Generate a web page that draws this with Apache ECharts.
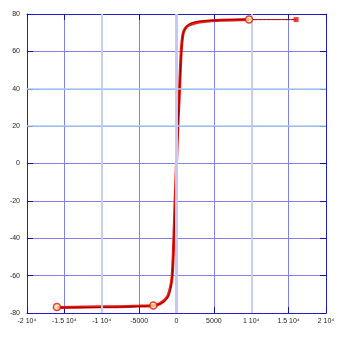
<!DOCTYPE html>
<html><head><meta charset="utf-8">
<script src="https://cdn.jsdelivr.net/npm/echarts@6/dist/echarts.min.js"></script>
<style>html,body{margin:0;padding:0;background:#fff}#c{width:339px;height:339px}</style>
</head><body><div id="c"></div>
<script>
// Ascending branch (thick red)
const ascX = [-16000, -12000, -8000, -5000, -3100, -2200, -1240, -800, -575, -360, -180, 0, 180, 400, 630, 890, 1200, 1650, 2500, 3650, 5900, 9700];
const ascY = [-77, -76.8, -76.6, -76.3, -76, -75, -71.5, -66, -60, -41, -19, 0.5, 20, 39, 60, 69.7, 72.5, 74, 75.2, 76, 76.6, 77];
// Descending branch (thin dark red)
const descX = [16000, 9700, 5000, 2000, 1000, 700, 450, 220, 30, -150, -330, -540, -900, -1500, -2800, -5000, -10000, -16000];
const descY = [77, 77, 76.6, 75.3, 71, 62, 42, 20, -1, -20, -40, -59, -69, -73.5, -75.8, -76.5, -77, -77.2];
// Marked points
const circX = [-16000, -3100, 9700];
const circY = [-76.8, -76, 77];
const sqX = [16000];
const sqY = [77];
// Tick labels
const xTicks = [-20000, -15000, -10000, -5000, 0, 5000, 10000, 15000, 20000];
const xTickLabels = ['-2 10⁴', '-1.5 10⁴', '-1 10⁴', '-5000', '0', '5000', '1 10⁴', '1.5 10⁴', '2 10⁴'];
const yTicks = [-80, -60, -40, -20, 0, 20, 40, 60, 80];

const zip = (a, b) => a.map((v, i) => [v, b[i]]);
const axisFont = {fontFamily: 'Liberation Sans', fontSize: 7, color: '#222'};
const gridBlue = '#8080f0';
const chart = echarts.init(document.getElementById('c'), null, {renderer: 'canvas'});
chart.setOption({
  animation: false,
  backgroundColor: '#fff',
  grid: {left: 27, right: 13, top: 14, bottom: 26, show: false},
  xAxis: [{
    type: 'value', min: -20000, max: 20000, interval: 5000,
    axisLine: {show: true, onZero: false, lineStyle: {color: '#2020c8', width: 1}},
    axisTick: {show: true, inside: true, length: 6, lineStyle: {color: '#1010b0'}},
    axisLabel: Object.assign({margin: 5, formatter: v => xTickLabels[xTicks.indexOf(v)] || ''}, axisFont),
    splitLine: {show: true, lineStyle: {color: gridBlue, width: 1}}
  }, {
    type: 'value', position: 'top', min: -20000, max: 20000, interval: 5000,
    axisLine: {show: true, onZero: false, lineStyle: {color: '#2020c8', width: 1}},
    axisTick: {show: true, inside: true, length: 6, lineStyle: {color: '#1010b0'}},
    axisLabel: {show: false}, splitLine: {show: false}
  }],
  yAxis: [{
    type: 'value', min: -80, max: 80, interval: 20,
    axisLine: {show: true, onZero: false, lineStyle: {color: '#2020c8', width: 1}},
    axisTick: {show: true, inside: true, length: 6, lineStyle: {color: '#1010b0'}},
    axisLabel: Object.assign({margin: 7}, axisFont),
    splitLine: {show: true, lineStyle: {color: gridBlue, width: 1}}
  }, {
    type: 'value', position: 'right', min: -80, max: 80, interval: 20,
    axisLine: {show: true, onZero: false, lineStyle: {color: '#2020c8', width: 1}},
    axisTick: {show: true, inside: true, length: 6, lineStyle: {color: '#1010b0'}},
    axisLabel: {show: false}, splitLine: {show: false}
  }],
  series: [{
    type: 'line', data: [], silent: true,
    markLine: {
      silent: true, symbol: 'none', label: {show: false},
      data: [
        {xAxis: 0, lineStyle: {color: '#c4c8f8', width: 3, type: 'solid'}},
        {xAxis: -10000, lineStyle: {color: '#c8ccf8', width: 2, type: 'solid'}},
        {xAxis: 10000, lineStyle: {color: '#c8ccf8', width: 2, type: 'solid'}},
        {yAxis: 20, lineStyle: {color: '#a8d0f4', width: 1.5, type: 'solid'}},
        {yAxis: 40, lineStyle: {color: '#a8d0f4', width: 1.5, type: 'solid'}}
      ]
    }
  }, {
    type: 'line', data: zip(ascX, ascY), showSymbol: false, smooth: 0.3,
    lineStyle: {color: '#ee1a10', width: 3}, z: 3
  }, {
    type: 'line', data: zip(descX, descY), showSymbol: false, smooth: 0.3,
    lineStyle: {color: '#900000', width: 1}, z: 4
  }, {
    type: 'scatter', data: zip(circX, circY), symbol: 'circle', symbolSize: 7,
    itemStyle: {color: '#ffe8a0', borderColor: '#e01010', borderWidth: 1.5}, z: 5
  }, {
    type: 'scatter', data: zip(sqX, sqY), symbol: 'rect', symbolSize: 5,
    itemStyle: {color: '#e01010'}, z: 5
  }]
});
</script></body></html>
